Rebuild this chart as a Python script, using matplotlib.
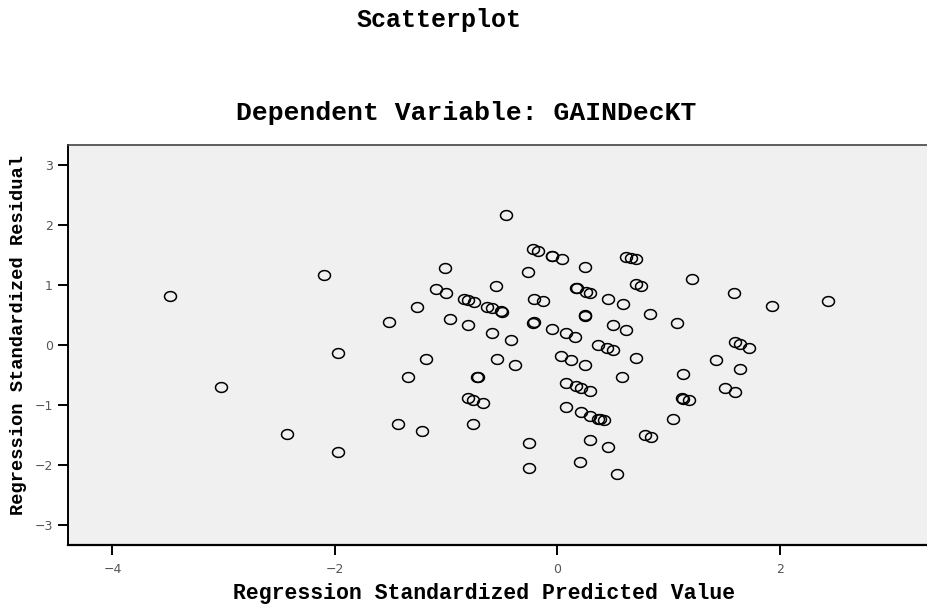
import numpy as np
import matplotlib
matplotlib.use("Agg")
import matplotlib.pyplot as plt
from matplotlib.path import Path

# Regression standardized predicted value (x) and residual (y)
pred = [
    -3.48, -3.02, -2.43, -2.10, -1.97, -1.97,
    -1.51, -1.43, -1.34, -1.26, -1.22, -1.18, -1.09, -1.01, -1.00, -0.965,
    -0.84, -0.80, -0.75, -0.80, -0.80, -0.755, -0.76, -0.72, -0.71, -0.67,
    -0.635, -0.59, -0.50, -0.505, -0.59, -0.55, -0.54, -0.46, -0.42, -0.38,
    -0.26, -0.25, -0.25, -0.22, -0.17, -0.21, -0.13, -0.215, -0.21,
    -0.05, -0.045, 0.04, -0.045, 0.03, 0.08, 0.16, 0.12, 0.25,
    0.08, 0.165, 0.21, 0.29, 0.08, 0.21, 0.29, 0.37, 0.385, 0.42,
    0.29, 0.46, 0.20, 0.54, 0.165, 0.175, 0.255, 0.295, 0.25, 0.245, 0.25,
    0.37, 0.45, 0.50, 0.46, 0.50, 0.59, 0.62, 0.58, 0.62, 0.665, 0.71,
    0.705, 0.75, 0.71, 0.83, 0.79, 0.84, 1.04, 1.08, 1.12, 1.13, 1.18,
    1.13, 1.21, 1.43, 1.51, 1.595, 1.59, 1.60, 1.64, 1.72, 1.64, 1.93, 2.43,
]
resid = [
    0.82, -0.70, -1.49, 1.16, -0.14, -1.78,
    0.38, -1.31, -0.54, 0.63, -1.44, -0.24, 0.93, 1.29, 0.87, 0.44,
    0.77, 0.75, 0.72, 0.34, -0.89, -0.915, -1.32, -0.53, -0.53, -0.97,
    0.64, 0.61, 0.555, 0.56, 0.205, 0.99, -0.23, 2.16, 0.09, -0.34,
    1.215, -1.64, -2.05, 1.60, 1.57, 0.77, 0.73, 0.37, 0.375,
    1.49, 1.485, 1.44, 0.265, -0.19, 0.195, 0.135, -0.25, -0.34,
    -0.64, -0.68, -0.715, -0.765, -1.04, -1.12, -1.175, -1.23, -1.24, -1.25,
    -1.58, -1.69, -1.94, -2.15, 0.95, 0.945, 0.88, 0.865, 1.30, 0.49, 0.495,
    0.0, -0.055, -0.08, 0.76, 0.33, 0.68, 0.25, -0.54, 1.47, 1.45, 1.43,
    1.01, 0.99, -0.21, 0.52, -1.50, -1.53, -1.24, 0.36, -0.89, -0.90, -0.92,
    -0.48, 1.10, -0.25, -0.72, -0.78, 0.86, 0.045, 0.01, -0.045, -0.40, 0.65, 0.73,
]

xticks = [-4, -2, 0, 2]
yticks = [-3, -2, -1, 0, 1, 2, 3]

W, H = 927, 609
fig = plt.figure(figsize=(W / 100, H / 100), dpi=100)

ax_left, ax_right_px, ax_top, ax_bot = 68, 68 + 978.6, 145, 545
ax = fig.add_axes([ax_left / W, (H - ax_bot) / H,
                   (ax_right_px - ax_left) / W, (ax_bot - ax_top) / H])
ax.set_facecolor("#f0f0f0")

# slightly wide ellipse marker
t = np.linspace(0, 2 * np.pi, 60)
ell = Path(np.column_stack([np.cos(t), 0.82 * np.sin(t)]), closed=True)

ax.plot(pred, resid, linestyle="none", marker=ell, markersize=8.6,
        markerfacecolor="none", markeredgecolor="black", markeredgewidth=1.1)

ax.set_xlim(-4.4, 4.4)
ax.set_ylim(-3.33, 3.33)
ax.set_xticks(xticks)
ax.set_yticks(yticks)
ax.set_xticklabels(["\u2212" + str(abs(v)) if v < 0 else str(v) for v in xticks])
ax.set_yticklabels(["\u2212" + str(abs(v)) if v < 0 else str(v) for v in yticks])
ax.tick_params(axis="both", direction="out", length=7, width=1.4,
               labelsize=9, labelcolor="#555555", color="black")
ax.tick_params(axis="x", pad=6)
ax.tick_params(axis="y", pad=4)
for lab in ax.get_xticklabels() + ax.get_yticklabels():
    lab.set_family("DejaVu Sans")

ax.spines["left"].set_linewidth(1.4)
ax.spines["bottom"].set_linewidth(1.6)
ax.spines["top"].set_linewidth(1.2)
ax.spines["top"].set_color("#444444")
ax.spines["right"].set_visible(False)

mono = "Liberation Mono"
fig.text(439 / W, 1 - 20 / H, "Scatterplot", ha="center", va="center",
         fontsize=18, fontweight="bold", family=mono)
fig.text(466 / W, 1 - 113 / H, "Dependent Variable: GAINDecKT", ha="center",
         va="center", fontsize=19, fontweight="bold", family=mono)
fig.text(484 / W, 1 - 594 / H, "Regression Standardized Predicted Value",
         ha="center", va="center", fontsize=15.5, fontweight="bold", family=mono)
fig.text(19 / W, 1 - 335 / H, "Regression Standardized Residual",
         ha="center", va="center", rotation=90, fontsize=13.5,
         fontweight="bold", family=mono)

fig.savefig("out.png", dpi=100)
